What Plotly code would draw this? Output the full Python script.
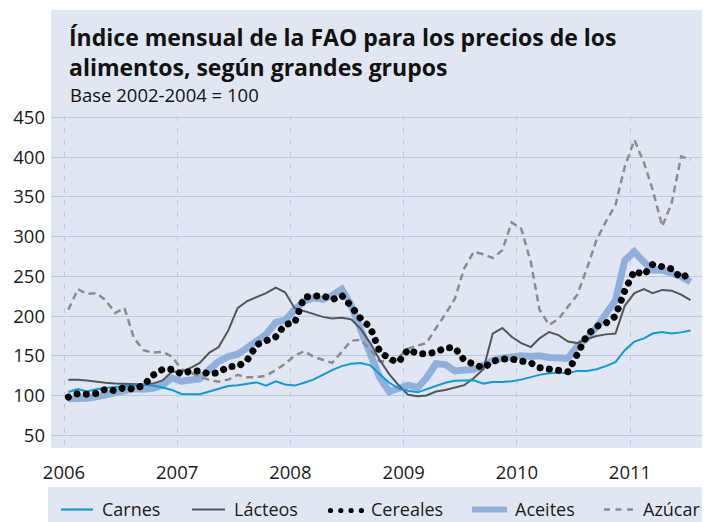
import plotly.graph_objects as go
import pandas as pd

# ---------------- data (monthly, Jan 2006 - Jul 2011) ----------------
months = pd.date_range("2006-01-01", periods=67, freq="MS") + pd.Timedelta(days=14)

carnes = [104.5, 108, 105, 108, 109.5, 111, 112, 113, 113.5, 112.5, 110, 107,
          102, 101.7, 101.7, 105, 108.5, 112, 113, 115, 116.5, 112.5, 118, 114,
          112.5, 116, 120, 126, 132, 137, 140, 141, 138, 127, 116, 109,
          106, 104, 108, 112, 116, 118.5, 119.3, 119.3, 115, 117, 117, 118,
          120, 123, 126, 128, 129, 128, 131, 131, 133, 137, 142, 157,
          168, 172, 178, 180, 178, 179.5, 182]
lacteos = [120, 120, 119, 117, 116, 115, 114.5, 114, 114, 115, 119, 130,
           130, 135, 141, 154, 161, 182, 210, 219, 224, 229, 236, 230,
           210, 206, 203, 199, 197, 198, 196, 184, 166, 145, 127, 113,
           101, 99, 100, 105, 107, 110, 113, 122, 133, 178, 185, 174,
           166, 161, 172, 180, 176, 168, 166, 171, 175, 177, 178, 213,
           229, 234, 229, 233, 232, 227, 220]
cereales = [98, 102.5, 101.7, 102.5, 108, 106, 110, 108, 113, 125.6, 133, 133,
            127, 131, 131, 127, 129, 136.5, 136.5, 144.5, 164, 170, 174, 189.5,
            191.6, 224, 224, 226, 220.6, 226, 212.6, 197, 185.7, 156, 146, 142,
            158, 152.5, 152.5, 154.6, 160, 160, 144.5, 139, 134.5, 143, 146, 146,
            144.5, 141, 135, 134, 133, 130, 152, 176, 187, 191, 200, 232,
            257, 252, 265, 261.6, 259.5, 248, 254]
aceites = [96, 96, 96.5, 98.5, 100.5, 103.5, 106, 108.5, 108, 109, 113, 122,
           118, 119, 121, 133, 143, 149, 152, 160, 168, 177, 192, 195,
           208, 219, 223, 221, 226, 234, 214, 184, 151, 123, 105, 110,
           113, 110, 122, 140, 139, 131, 133, 133, 138, 144, 147, 148.5,
           150, 149, 150, 148, 147, 147, 162, 172, 186, 204, 220, 270,
           281, 268, 258, 258, 254, 250, 243]
azucar = [208, 234, 228, 229, 220, 204, 210, 172, 157, 154, 155, 149,
          133, 128, 124, 119.5, 117.5, 120, 126, 123, 123, 125, 132, 140,
          150, 156, 149, 145, 141, 155, 169, 170, 158, 143, 143, 148,
          159, 163, 166, 185, 202, 222, 260, 281, 278, 273, 283, 318,
          310, 268, 208, 189, 196, 212, 227, 260, 296, 319, 340, 388,
          422, 393, 359, 313, 342, 401, 397]

series_names = ["Carnes", "Lácteos", "Cereales", "Aceites", "Azúcar"]
y_ticks = [50, 100, 150, 200, 250, 300, 350, 400, 450]
x_ticks = ["2006-01-01", "2007-01-01", "2008-01-01", "2009-01-01", "2010-01-01", "2011-01-01"]
x_ticklabels = ["2006", "2007", "2008", "2009", "2010", "2011"]

title_text = "Índice mensual de la FAO para los precios de los<br>alimentos, según grandes grupos"
subtitle = "Base 2002-2004 = 100"

# ---------------- style ----------------
OFF = 8                      # page body margin of the html page
W, H = 710 - OFF, 522 - OFF  # figure size
L, R, T, B = 43, 0, 108, 74
PANEL = "#E1E7F2"
GRID = "#B6C9E5"
FONT = "Open Sans"
TXT = "#1a1a1a"
C_CARNES = "#0A9BDB"
C_LACTEOS = "#555555"
C_CEREALES = "#000000"
C_ACEITES = "#8FB0DC"
C_AZUCAR = "#8C8C8C"


def px(x):
    """page pixel x -> paper x"""
    return (x - OFF - L) / (W - L - R)


def py(y):
    """page pixel y -> paper y"""
    return (H - B - (y - OFF)) / (H - T - B)


fig = go.Figure()
fig.add_trace(go.Scatter(x=months, y=aceites, mode="lines", name=series_names[3],
                         line=dict(color=C_ACEITES, width=7)))
fig.add_trace(go.Scatter(x=months, y=azucar, mode="lines", name=series_names[4],
                         line=dict(color=C_AZUCAR, width=2.5, dash="7px,4.5px")))
fig.add_trace(go.Scatter(x=months, y=lacteos, mode="lines", name=series_names[1],
                         line=dict(color=C_LACTEOS, width=2)))
fig.add_trace(go.Scatter(x=months, y=carnes, mode="lines", name=series_names[0],
                         line=dict(color=C_CARNES, width=2)))
fig.add_trace(go.Scatter(x=months, y=cereales, mode="lines", name=series_names[2],
                         line=dict(color=C_CEREALES, width=7, dash="5px,4.3px")))

shapes = [
    # title panel
    dict(type="rect", xref="paper", yref="paper", x0=px(51), x1=1, y0=1, y1=py(10),
         fillcolor=PANEL, line=dict(width=0), layer="below"),
    # legend band
    dict(type="rect", xref="paper", yref="paper", x0=px(48), x1=1, y0=py(522), y1=py(487),
         fillcolor=PANEL, line=dict(width=0), layer="below"),
]
ly = py(509.5)
shapes += [
    dict(type="line", xref="paper", yref="paper", x0=px(61), x1=px(93), y0=ly, y1=ly,
         line=dict(color=C_CARNES, width=2.2)),
    dict(type="line", xref="paper", yref="paper", x0=px(192), x1=px(225), y0=ly, y1=ly,
         line=dict(color=C_LACTEOS, width=2.2)),
    dict(type="line", xref="paper", yref="paper", x0=px(472), x1=px(507), y0=ly, y1=ly,
         line=dict(color=C_ACEITES, width=6)),
    dict(type="line", xref="paper", yref="paper", x0=px(604), x1=px(633.5), y0=ly, y1=ly,
         line=dict(color=C_AZUCAR, width=2.5, dash="6px,5.5px")),
]
for cx in [330.5, 340.8, 351.1, 361.4]:
    r = 2.6
    shapes.append(dict(type="circle", xref="paper", yref="paper",
                       x0=px(cx - r), x1=px(cx + r), y0=py(510.5 + r), y1=py(510.5 - r),
                       fillcolor=C_CEREALES, line=dict(width=0)))

annotations = [
    dict(text=title_text, xref="paper", yref="paper", x=px(67), y=py(52),
         xanchor="left", yanchor="middle", align="left", showarrow=False,
         font=dict(family=FONT, size=23, color="#111111", weight="bold")),
    dict(text=subtitle, xref="paper", yref="paper", x=px(68), y=py(94),
         xanchor="left", yanchor="middle", showarrow=False,
         font=dict(family=FONT, size=18.5, color="#111111")),
]
for name, lx in zip(series_names, [100, 232, 369, 513, 641]):
    annotations.append(dict(text=name, xref="paper", yref="paper", x=px(lx), y=py(508.5),
                            xanchor="left", yanchor="middle", showarrow=False,
                            font=dict(family=FONT, size=18, color=TXT)))

fig.update_layout(
    width=W, height=H, autosize=False,
    margin=dict(l=L, r=R, t=T, b=B, pad=0),
    paper_bgcolor="white", plot_bgcolor=PANEL,
    showlegend=False,
    font=dict(family=FONT, color=TXT),
    shapes=shapes, annotations=annotations,
    xaxis=dict(type="date", range=["2005-11-20", "2011-09-16"],
               tickmode="array", tickvals=x_ticks, ticktext=x_ticklabels,
               showgrid=True, gridcolor=GRID, gridwidth=1.3, griddash="5px,7px",
               zeroline=False, showline=False, ticks="",
               tickfont=dict(family=FONT, size=18.5, color=TXT),
               ticklabelstandoff=11, fixedrange=True),
    yaxis=dict(range=[33.9, 452], tickmode="array", tickvals=y_ticks,
               showgrid=True, gridcolor=GRID, gridwidth=1.3,
               zeroline=False, showline=False, ticks="",
               tickfont=dict(family=FONT, size=18.5, color=TXT),
               ticklabelstandoff=5, fixedrange=True),
)

post = """
var gd = document.getElementById('{plot_id}');
function cerealDots(){
  var tr = gd.querySelectorAll('.scatterlayer .trace');
  if(tr.length < 5) return;
  tr[4].querySelectorAll('path.js-line').forEach(function(p){
    p.style.strokeLinecap = 'round';
    p.style.strokeDasharray = '0.01px, 9.3px';
  });
}
cerealDots();
if(gd.on){ gd.on('plotly_afterplot', cerealDots); }
"""

fig.write_html("out.html", post_script=post, config={"displayModeBar": False})
